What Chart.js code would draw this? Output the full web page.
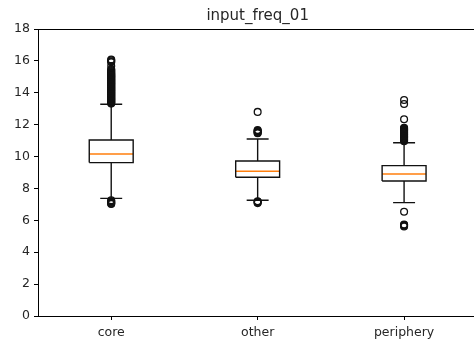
<!DOCTYPE html>
<html>
<head>
<meta charset="utf-8">
<script src="https://cdn.jsdelivr.net/npm/chart.js@4/dist/chart.umd.min.js"></script>
<style>
  html, body { margin: 0; padding: 0; background: #fff; overflow: hidden; }
  #wrap { width: 482px; height: 340px; }
</style>
</head>
<body>
<div id="wrap"><canvas id="c" width="482" height="340"></canvas></div>
<script>
const chartTitle = 'input_freq_01';
const categories = ['core', 'other', 'periphery'];
const q1 = [9.62, 8.70, 8.47];
const median = [10.16, 9.08, 8.91];
const q3 = [11.04, 9.72, 9.43];
const whiskerLow = [7.38, 7.26, 7.11];
const whiskerHigh = [13.28, 11.10, 10.87];
const outliersCore = [7.26, 7.2, 7.15, 7.1, 7.06, 7.02,
  13.32, 13.36, 13.4, 13.44, 13.48, 13.52, 13.56, 13.6, 13.64, 13.68, 13.72, 13.76, 13.8, 13.84, 13.88, 13.92, 13.96,
  14.0, 14.04, 14.08, 14.12, 14.16, 14.2, 14.24, 14.28, 14.32, 14.36, 14.4, 14.44, 14.48, 14.52, 14.56, 14.6, 14.64,
  14.68, 14.72, 14.76, 14.8, 14.84, 14.88, 14.92, 14.96, 15.0, 15.04, 15.08, 15.12, 15.16, 15.2, 15.25, 15.3, 15.36,
  15.42, 15.48, 15.68, 15.92, 15.98, 16.04, 16.08];
const outliersOther = [12.8, 11.66, 11.62, 11.58, 11.54, 11.5, 11.46, 7.2, 7.16, 7.12, 7.08];
const outliersPeriphery = [13.55, 13.3, 12.34, 11.8, 11.76, 11.72, 11.68, 11.64, 11.6, 11.56, 11.52, 11.48, 11.44,
  11.4, 11.36, 11.32, 11.28, 11.24, 11.2, 11.16, 11.12, 11.08, 11.04, 11.0, 10.96, 6.54, 5.74, 5.7, 5.66, 5.62];
const yTicks = [0, 2, 4, 6, 8, 10, 12, 14, 16, 18];

const allOutliers = [outliersCore, outliersOther, outliersPeriphery];
const BOX_HALF = 0.15, CAP_HALF = 0.075;

const boxPts = [], medPts = [], whiskPts = [], capPts = [], outPts = [];
categories.forEach((c, i) => {
  const p = i + 1;
  boxPts.push({x: p - BOX_HALF, y: q1[i]}, {x: p + BOX_HALF, y: q1[i]}, {x: p + BOX_HALF, y: q3[i]}, {x: p - BOX_HALF, y: q3[i]}, {x: p - BOX_HALF, y: q1[i]}, {x: p, y: null});
  medPts.push({x: p - BOX_HALF, y: median[i]}, {x: p + BOX_HALF, y: median[i]}, {x: p, y: null});
  whiskPts.push({x: p, y: q1[i]}, {x: p, y: whiskerLow[i]}, {x: p + 0.01, y: null}, {x: p, y: q3[i]}, {x: p, y: whiskerHigh[i]}, {x: p + 0.01, y: null});
  capPts.push({x: p - CAP_HALF, y: whiskerLow[i]}, {x: p + CAP_HALF, y: whiskerLow[i]}, {x: p, y: null}, {x: p - CAP_HALF, y: whiskerHigh[i]}, {x: p + CAP_HALF, y: whiskerHigh[i]}, {x: p, y: null});
  allOutliers[i].forEach(v => outPts.push({x: p, y: v}));
});

const lineDs = (data, color) => ({
  type: 'line', data, borderColor: color, borderWidth: 1.4, pointRadius: 0,
  showLine: true, spanGaps: false, fill: false, tension: 0, order: 2
});

const frame = {
  id: 'frame',
  afterDraw(chart) {
    const {ctx, chartArea: a} = chart;
    ctx.save();
    ctx.strokeStyle = '#000';
    ctx.lineWidth = 1;
    ctx.beginPath();
    ctx.moveTo(a.left, Math.round(a.top) + 0.5);
    ctx.lineTo(a.right, Math.round(a.top) + 0.5);
    ctx.moveTo(Math.round(a.right) + 0.5, a.top);
    ctx.lineTo(Math.round(a.right) + 0.5, a.bottom);
    ctx.stroke();
    ctx.restore();
  }
};

Chart.defaults.font.family = 'DejaVu Sans';
Chart.defaults.color = '#262626';

new Chart(document.getElementById('c'), {
  type: 'scatter',
  data: {
    datasets: [
      lineDs(boxPts, '#111'),
      lineDs(whiskPts, '#111'),
      lineDs(capPts, '#111'),
      lineDs(medPts, '#ff7f0e'),
      {
        type: 'scatter', data: outPts, pointStyle: 'circle', pointRadius: 3.4,
        pointBorderWidth: 1.3, pointBorderColor: '#111', pointBackgroundColor: 'rgba(0,0,0,0)',
        pointHoverRadius: 3.4, order: 1
      }
    ]
  },
  options: {
    responsive: false,
    animation: false,
    events: [],
    layout: { padding: { top: 0, right: 2.5, left: 0, bottom: 0 } },
    plugins: {
      legend: { display: false },
      tooltip: { enabled: false },
      title: {
        display: true, text: chartTitle, fullSize: false,
        font: { size: 15, weight: 'normal' }, color: '#262626',
        padding: { top: 7, bottom: 4 }
      }
    },
    scales: {
      x: {
        type: 'linear', min: 0.5, max: 3.5,
        afterBuildTicks: (ax) => { ax.ticks = categories.map((c, i) => ({ value: i + 1 })); },
        afterFit: (ax) => { ax.height = 24; },
        ticks: {
          callback: (v) => categories[Math.round(v) - 1] || '',
          font: { size: 12.5 }, padding: 5, maxRotation: 0, autoSkip: false
        },
        grid: { display: true, drawOnChartArea: false, tickLength: 4, color: '#000', lineWidth: 1 },
        border: { display: true, color: '#000', width: 1 }
      },
      y: {
        type: 'linear', min: 0, max: 18,
        afterBuildTicks: (ax) => { ax.ticks = yTicks.map(v => ({ value: v })); },
        afterFit: (ax) => { ax.width = 38; },
        ticks: { font: { size: 12.5 }, padding: 4 },
        grid: { display: true, drawOnChartArea: false, tickLength: 4, color: '#000', lineWidth: 1 },
        border: { display: true, color: '#000', width: 1 }
      }
    }
  },
  plugins: [frame]
});
</script>
</body>
</html>
